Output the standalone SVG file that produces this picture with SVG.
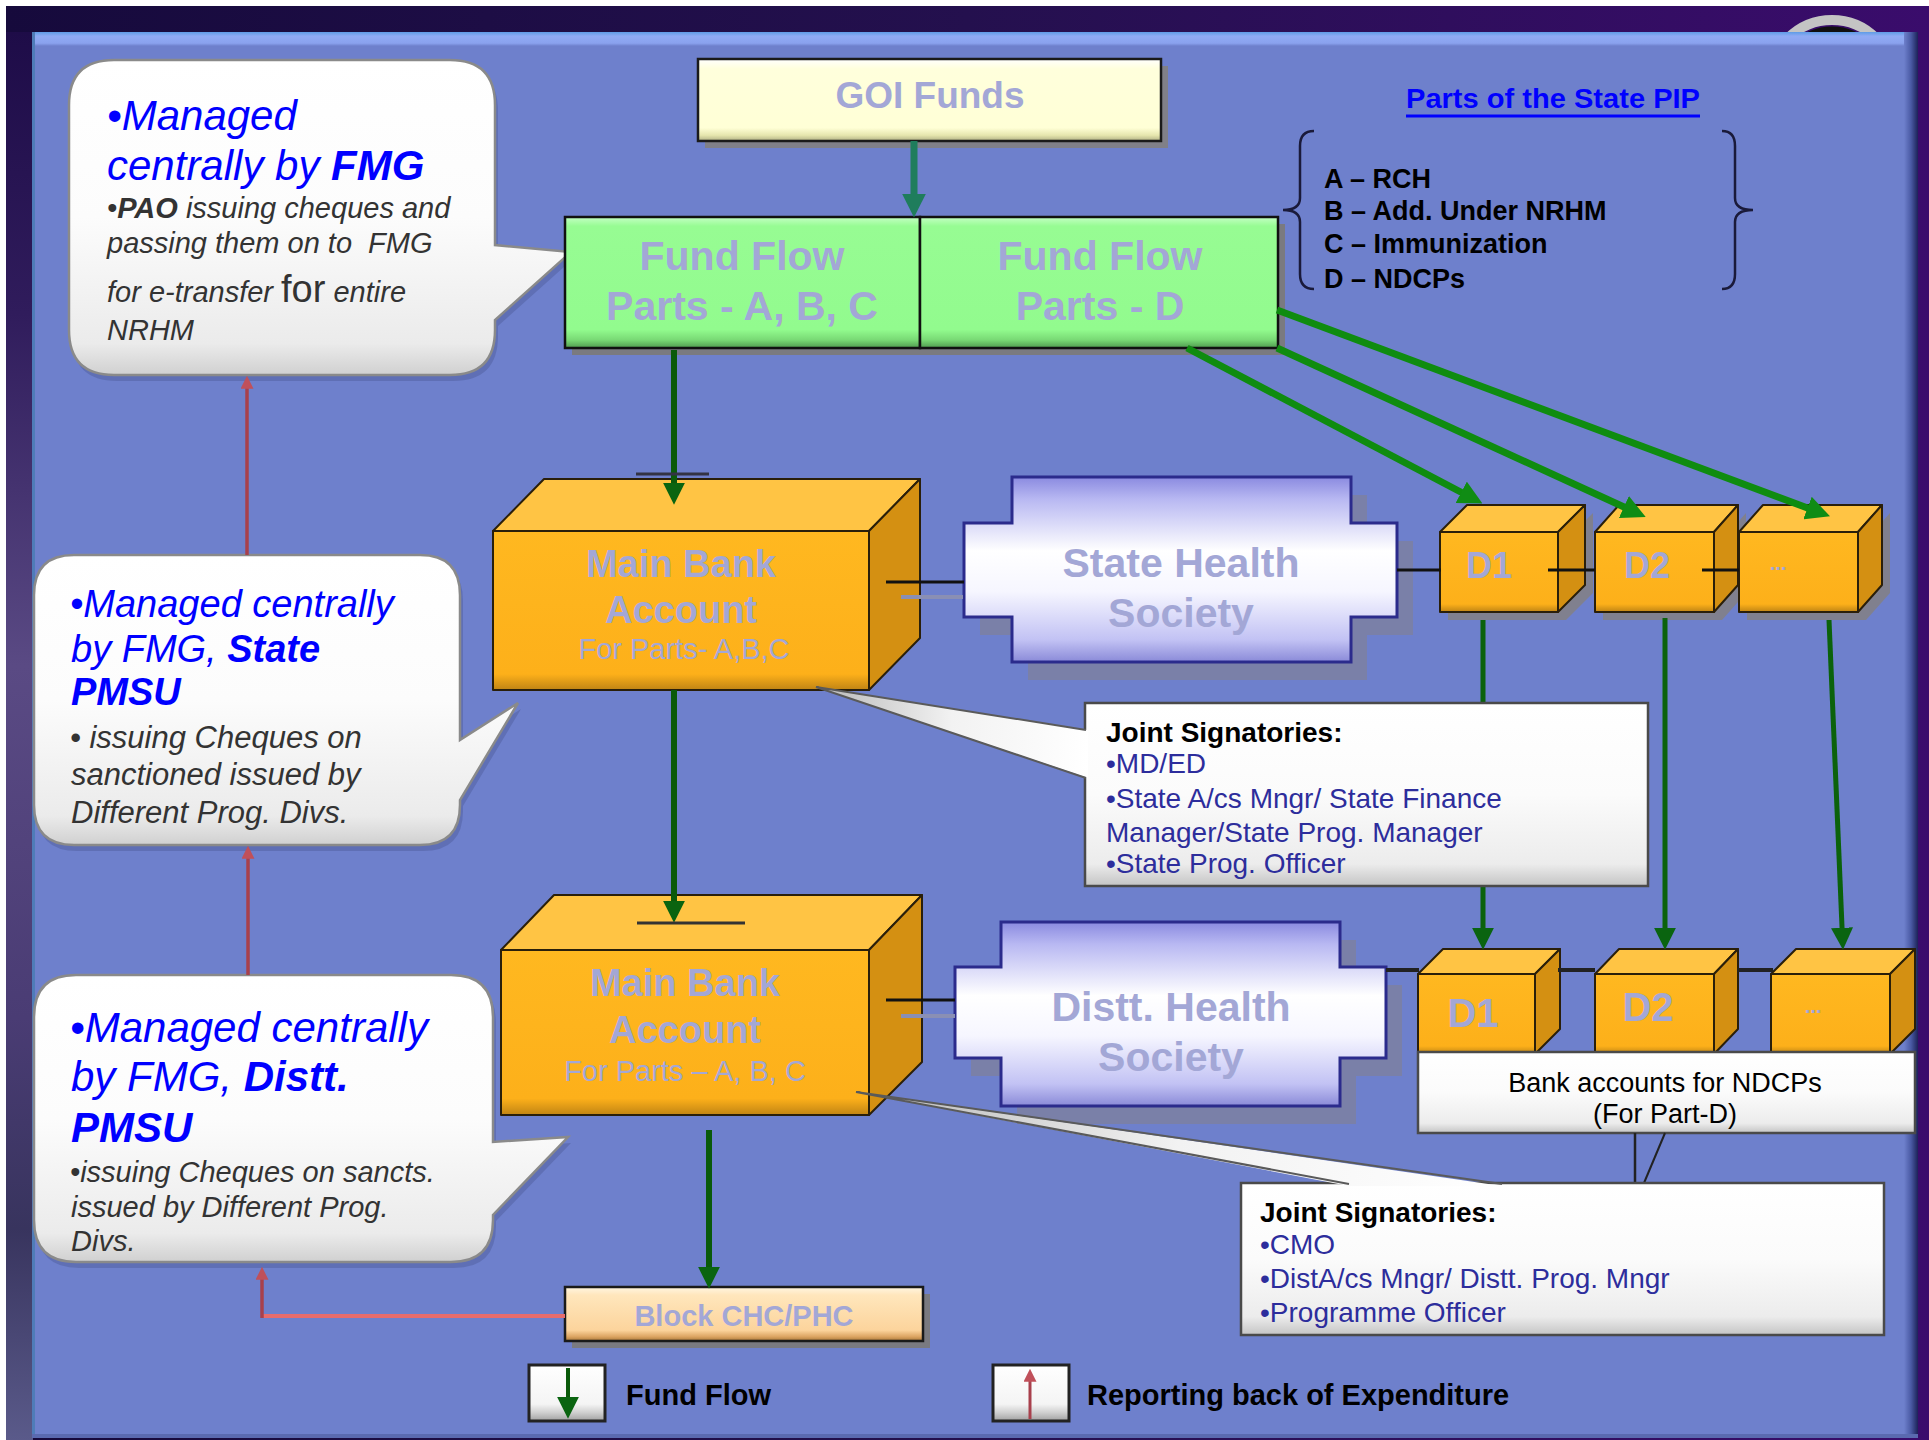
<svg xmlns="http://www.w3.org/2000/svg" width="1929" height="1440" viewBox="0 0 1929 1440">
<style>
text{font-family:"Liberation Sans",Arial,sans-serif}
.lav{fill:#a3a7d6;font-weight:bold}
.b{font-weight:bold}
.blue{fill:#0000ff;font-style:italic}
.gray{fill:#333333;font-style:italic}
.js{fill:#2d2d9c;font-size:28px}
.pip{font-size:27px;font-weight:bold;fill:#000}
.edge{stroke:#2a1f0a;stroke-width:2;stroke-linejoin:round}
.callout{fill:url(#calloutG);stroke:#8a8a8a;stroke-width:2.5}
.cshadow{fill:#4e5c9a;opacity:0.45}
.box{fill:url(#boxG);stroke:#4a4a4a;stroke-width:2.5}
</style>
<defs>
<linearGradient id="frameG" x1="0" y1="0" x2="1" y2="0"><stop offset="0" stop-color="#160a3c"/><stop offset="0.5" stop-color="#24104e"/><stop offset="1" stop-color="#3a0c6c"/></linearGradient>
<linearGradient id="leftG" x1="0" y1="0" x2="0" y2="1"><stop offset="0" stop-color="#1e0c48"/><stop offset="0.2" stop-color="#301c5c"/><stop offset="0.45" stop-color="#5a4a84"/><stop offset="0.7" stop-color="#4a3c74"/><stop offset="0.85" stop-color="#38345e"/><stop offset="1" stop-color="#5a5a8a"/></linearGradient>
<linearGradient id="topBevel" x1="0" y1="0" x2="0" y2="1"><stop offset="0" stop-color="#5e9ce6"/><stop offset="0.3" stop-color="#90aaf4"/><stop offset="0.8" stop-color="#8aa2ee"/><stop offset="1" stop-color="#6e80cc"/></linearGradient>
<linearGradient id="rightBevel" x1="0" y1="0" x2="1" y2="0"><stop offset="0" stop-color="#6e80cc"/><stop offset="0.5" stop-color="#4a5aa4"/><stop offset="1" stop-color="#1c2258"/></linearGradient>
<linearGradient id="ffG" x1="0" y1="0" x2="0" y2="1"><stop offset="0" stop-color="#c4ffc4"/><stop offset="0.07" stop-color="#97fc93"/><stop offset="0.86" stop-color="#92fb8e"/><stop offset="0.94" stop-color="#78d874"/><stop offset="1" stop-color="#4f9a4f"/></linearGradient>
<linearGradient id="goiG" x1="0" y1="0" x2="0" y2="1"><stop offset="0" stop-color="#ffffff"/><stop offset="0.12" stop-color="#ffffdc"/><stop offset="0.84" stop-color="#ffffd6"/><stop offset="0.93" stop-color="#e6e6ae"/><stop offset="1" stop-color="#b0b084"/></linearGradient>
<linearGradient id="blockG" x1="0" y1="0" x2="0" y2="1"><stop offset="0" stop-color="#fff6e2"/><stop offset="0.15" stop-color="#ffe6bc"/><stop offset="0.8" stop-color="#fcd49c"/><stop offset="0.92" stop-color="#dca462"/><stop offset="1" stop-color="#a87838"/></linearGradient>
<linearGradient id="crossG" x1="0" y1="0" x2="0" y2="1"><stop offset="0" stop-color="#8a8ae0"/><stop offset="0.12" stop-color="#b8b8f2"/><stop offset="0.4" stop-color="#ffffff"/><stop offset="0.62" stop-color="#f6f6ff"/><stop offset="0.88" stop-color="#c2c2f4"/><stop offset="1" stop-color="#8a8ad8"/></linearGradient>
<linearGradient id="calloutG" x1="0" y1="0" x2="0" y2="1"><stop offset="0" stop-color="#ffffff"/><stop offset="0.5" stop-color="#fcfcfc"/><stop offset="0.9" stop-color="#ebebeb"/><stop offset="1" stop-color="#d0d0d0"/></linearGradient>
<linearGradient id="boxG" x1="0" y1="0" x2="0" y2="1"><stop offset="0" stop-color="#ffffff"/><stop offset="0.5" stop-color="#fbfbfb"/><stop offset="0.88" stop-color="#ececec"/><stop offset="1" stop-color="#c4c4c4"/></linearGradient>
<linearGradient id="cubeF" x1="0" y1="0" x2="0" y2="1"><stop offset="0" stop-color="#ffb820"/><stop offset="0.9" stop-color="#fdb01a"/><stop offset="1" stop-color="#c08414"/></linearGradient>
<linearGradient id="wedgeG" x1="0" y1="0" x2="1" y2="0"><stop offset="0" stop-color="#b8b8b8"/><stop offset="0.5" stop-color="#f2f2f2"/><stop offset="1" stop-color="#ffffff"/></linearGradient>
<linearGradient id="legendG" x1="0" y1="0" x2="0" y2="1"><stop offset="0" stop-color="#ffffff"/><stop offset="0.7" stop-color="#f4f4f4"/><stop offset="0.85" stop-color="#cfcfcf"/><stop offset="1" stop-color="#a0a0a0"/></linearGradient>
<marker id="mG" viewBox="0 0 10 10" refX="6" refY="5" markerWidth="22" markerHeight="22" markerUnits="userSpaceOnUse" orient="auto"><path d="M0,0L10,5L0,10z" fill="#0a6410"/></marker>
<marker id="mB" viewBox="0 0 10 10" refX="6" refY="5" markerWidth="24" markerHeight="24" markerUnits="userSpaceOnUse" orient="auto"><path d="M0,0L10,5L0,10z" fill="#108c14"/></marker>
<marker id="mT" viewBox="0 0 10 10" refX="6" refY="5" markerWidth="24" markerHeight="24" markerUnits="userSpaceOnUse" orient="auto"><path d="M0,0L10,5L0,10z" fill="#1f7d5c"/></marker>
<marker id="mR" viewBox="0 0 10 10" refX="6" refY="5" markerWidth="13" markerHeight="13" markerUnits="userSpaceOnUse" orient="auto"><path d="M0,0L10,5L0,10z" fill="#c0505a"/></marker>
</defs>

<!-- background frame -->
<rect width="1929" height="1440" fill="#ffffff"/>
<rect x="6" y="6" width="1923" height="1434" fill="url(#frameG)"/>
<rect x="6" y="32" width="27" height="1408" fill="url(#leftG)"/>
<ellipse cx="1832" cy="82" rx="62" ry="62" fill="none" stroke="#c4c4c4" stroke-width="10"/>
<ellipse cx="1832" cy="86" rx="53" ry="56" fill="none" stroke="#101010" stroke-width="7"/>
<rect x="32" y="32" width="1886" height="1406" fill="#6e80cc"/>
<rect x="32" y="32" width="1886" height="14" fill="url(#topBevel)"/>
<rect x="1904" y="32" width="14" height="1406" fill="url(#rightBevel)"/>
<rect x="32" y="32" width="3" height="1406" fill="#4f7cb8"/>
<rect x="32" y="1434" width="1886" height="4" fill="#5a6ab0"/>

<!-- left callouts -->
<g id="note-fmg">
<path class="cshadow" transform="translate(3,6)" d="M114,60 H450 Q495,60 495,105 V245 L571,252 L495,320 V330 Q495,375 450,375 H114 Q69,375 69,330 V105 Q69,60 114,60 Z"/>
<path class="callout" d="M114,60 H450 Q495,60 495,105 V245 L571,252 L495,320 V330 Q495,375 450,375 H114 Q69,375 69,330 V105 Q69,60 114,60 Z"/>
<text x="107" y="130" class="blue" font-size="42">•Managed</text>
<text x="107" y="180" class="blue" font-size="42">centrally by <tspan font-weight="bold">FMG</tspan></text>
<text x="107" y="218" class="gray" font-size="29">•<tspan font-weight="bold">PAO</tspan> issuing cheques and</text>
<text x="107" y="253" class="gray" font-size="29">passing them on to <tspan dx="8">FMG</tspan></text>
<text x="107" y="302" class="gray" font-size="29">for e-transfer <tspan font-size="38" font-style="normal">for</tspan> entire</text>
<text x="107" y="340" class="gray" font-size="29">NRHM</text>
</g>

<g id="note-state-pmsu">
<path class="cshadow" transform="translate(3,6)" d="M74,555 H420 Q460,555 460,595 V740 L518,703 L460,800 V805 Q460,845 420,845 H74 Q34,845 34,805 V595 Q34,555 74,555 Z"/>
<path class="callout" d="M74,555 H420 Q460,555 460,595 V740 L518,703 L460,800 V805 Q460,845 420,845 H74 Q34,845 34,805 V595 Q34,555 74,555 Z"/>
<text x="70" y="617" class="blue" font-size="38">•Managed centrally</text>
<text x="71" y="662" class="blue" font-size="38">by FMG, <tspan font-weight="bold">State</tspan></text>
<text x="71" y="705" class="blue" font-size="38" font-weight="bold">PMSU</text>
<text x="70" y="748" class="gray" font-size="31">• issuing Cheques on</text>
<text x="71" y="785" class="gray" font-size="31">sanctioned issued by</text>
<text x="71" y="823" class="gray" font-size="31">Different Prog. Divs.</text>
</g>

<g id="note-distt-pmsu">
<path class="cshadow" transform="translate(3,6)" d="M76,975 H451 Q493,975 493,1017 V1142 L568,1137 L493,1215 V1220 Q493,1262 451,1262 H76 Q34,1262 34,1220 V1017 Q34,975 76,975 Z"/>
<path class="callout" d="M76,975 H451 Q493,975 493,1017 V1142 L568,1137 L493,1215 V1220 Q493,1262 451,1262 H76 Q34,1262 34,1220 V1017 Q34,975 76,975 Z"/>
<text x="70" y="1042" class="blue" font-size="42">•Managed centrally</text>
<text x="71" y="1091" class="blue" font-size="42">by FMG, <tspan font-weight="bold">Distt.</tspan></text>
<text x="71" y="1142" class="blue" font-size="42" font-weight="bold">PMSU</text>
<text x="70" y="1182" class="gray" font-size="29">•issuing Cheques on sancts.</text>
<text x="71" y="1217" class="gray" font-size="29">issued by Different Prog.</text>
<text x="71" y="1251" class="gray" font-size="29">Divs.</text>
</g>

<!-- GOI -->
<g id="goi-funds">
<rect x="705" y="66" width="463" height="82" fill="#808088"/>
<rect x="698" y="59" width="463" height="82" fill="url(#goiG)" stroke="#1a1a1a" stroke-width="2.5"/>
<text x="930" y="108" class="lav" font-size="37" text-anchor="middle">GOI Funds</text>
</g>

<!-- Fund flow boxes -->
<g id="fund-flow-abc">
<rect x="572" y="224" width="355" height="131" fill="#7a7a80"/>
<rect x="565" y="217" width="355" height="131" fill="url(#ffG)" stroke="#111" stroke-width="2.5"/>
<text x="742" y="270" class="lav" font-size="41" text-anchor="middle">Fund Flow</text>
<text x="742" y="320" class="lav" font-size="41" text-anchor="middle">Parts - A, B, C</text>
</g>
<g id="fund-flow-d">
<rect x="927" y="224" width="358" height="131" fill="#7a7a80"/>
<rect x="920" y="217" width="358" height="131" fill="url(#ffG)" stroke="#111" stroke-width="2.5"/>
<text x="1100" y="270" class="lav" font-size="41" text-anchor="middle">Fund Flow</text>
<text x="1100" y="320" class="lav" font-size="41" text-anchor="middle">Parts - D</text>
</g>

<!-- PIP parts -->
<g id="pip-parts">
<text x="1406" y="108" font-size="28" font-weight="bold" fill="#0000ff" textLength="294" lengthAdjust="spacingAndGlyphs">Parts of the State PIP</text>
<line x1="1406" y1="116" x2="1700" y2="116" stroke="#0000ff" stroke-width="3"/>
<path d="M1314,131 Q1300,131 1300,146 L1300,198 Q1300,210 1283,210 Q1300,210 1300,222 L1300,274 Q1300,289 1314,289" fill="none" stroke="#1a1a3a" stroke-width="2.5"/>
<path d="M1722,131 Q1735,131 1735,146 L1735,198 Q1735,210 1753,210 Q1735,210 1735,222 L1735,274 Q1735,289 1722,289" fill="none" stroke="#1a1a3a" stroke-width="2.5"/>
<text x="1324" y="188" class="pip">A – RCH</text>
<text x="1324" y="220" class="pip">B – Add. Under NRHM</text>
<text x="1324" y="253" class="pip">C – Immunization</text>
<text x="1324" y="288" class="pip">D – NDCPs</text>
</g>

<!-- Main bank 1 -->
<g id="main-bank-state">
<rect x="493" y="531" width="376" height="159" fill="url(#cubeF)" class="edge"/>
<polygon points="493,531 544,479 920,479 869,531" fill="#ffc444" class="edge"/>
<polygon points="869,531 920,479 920,638 869,690" fill="#d49012" class="edge"/>
<text x="681" y="577" class="lav" font-size="38" text-anchor="middle">Main Bank</text>
<text x="681" y="623" class="lav" font-size="38" text-anchor="middle">Account</text>
<text x="684" y="659" font-size="29" fill="#a3a7d6" text-anchor="middle">For Parts- A,B,C</text>
</g>

<!-- State Health Society -->
<g id="state-health-society">
<path transform="translate(16,18)" d="M1012,477 H1351 V523 H1397 V617 H1351 V662 H1012 V617 H964 V523 H1012 Z" fill="#7a80a8"/>
<path d="M1012,477 H1351 V523 H1397 V617 H1351 V662 H1012 V617 H964 V523 H1012 Z" fill="url(#crossG)" stroke="#2b2b8c" stroke-width="3"/>
<text x="1181" y="577" class="lav" font-size="41" text-anchor="middle">State Health</text>
<text x="1181" y="627" class="lav" font-size="41" text-anchor="middle">Society</text>
</g>

<!-- D cubes top -->
<g id="state-d1">
<polygon points="1448,540 1566,540 1593,513 1593,593 1566,620 1448,620" fill="#80808e"/>
<rect x="1440" y="532" width="118" height="80" fill="url(#cubeF)" class="edge"/>
<polygon points="1440,532 1467,505 1585,505 1558,532" fill="#ffc444" class="edge"/>
<polygon points="1558,532 1585,505 1585,585 1558,612" fill="#d49012" class="edge"/>
<text x="1489" y="578" class="lav" font-size="36" text-anchor="middle">D1</text>
</g>
<g id="state-d2">
<polygon points="1603,540 1722,540 1746,513 1746,593 1722,620 1603,620" fill="#80808e"/>
<rect x="1595" y="532" width="119" height="80" fill="url(#cubeF)" class="edge"/>
<polygon points="1595,532 1619,505 1738,505 1714,532" fill="#ffc444" class="edge"/>
<polygon points="1714,532 1738,505 1738,585 1714,612" fill="#d49012" class="edge"/>
<text x="1647" y="578" class="lav" font-size="36" text-anchor="middle">D2</text>
</g>
<g id="state-dn">
<polygon points="1747,540 1866,540 1890,513 1890,593 1866,620 1747,620" fill="#80808e"/>
<rect x="1739" y="532" width="119" height="80" fill="url(#cubeF)" class="edge"/>
<polygon points="1739,532 1763,505 1882,505 1858,532" fill="#ffc444" class="edge"/>
<polygon points="1858,532 1882,505 1882,585 1858,612" fill="#d49012" class="edge"/>
<text x="1778" y="570" class="lav" font-size="20" text-anchor="middle">...</text>
</g>

<!-- Main bank 2 -->
<g id="main-bank-distt">
<rect x="501" y="950" width="368" height="165" fill="url(#cubeF)" class="edge"/>
<polygon points="501,950 554,895 922,895 869,950" fill="#ffc444" class="edge"/>
<polygon points="869,950 922,895 922,1062 869,1115" fill="#d49012" class="edge"/>
<text x="685" y="996" class="lav" font-size="38" text-anchor="middle">Main Bank</text>
<text x="685" y="1043" class="lav" font-size="38" text-anchor="middle">Account</text>
<text x="685" y="1081" font-size="29" fill="#a3a7d6" text-anchor="middle">For Parts – A, B, C</text>
</g>

<!-- Distt Health Society -->
<g id="distt-health-society">
<path transform="translate(16,18)" d="M1001,922 H1340 V967 H1386 V1058 H1340 V1106 H1001 V1058 H955 V967 H1001 Z" fill="#7a80a8"/>
<path d="M1001,922 H1340 V967 H1386 V1058 H1340 V1106 H1001 V1058 H955 V967 H1001 Z" fill="url(#crossG)" stroke="#2b2b8c" stroke-width="3"/>
<text x="1171" y="1021" class="lav" font-size="41" text-anchor="middle">Distt. Health</text>
<text x="1171" y="1071" class="lav" font-size="41" text-anchor="middle">Society</text>
</g>

<!-- D cubes bottom -->
<g id="distt-d1">
<rect x="1418" y="974" width="117" height="80" fill="url(#cubeF)" class="edge"/>
<polygon points="1418,974 1443,949 1560,949 1535,974" fill="#ffc444" class="edge"/>
<polygon points="1535,974 1560,949 1560,1029 1535,1054" fill="#d49012" class="edge"/>
<text x="1473" y="1027" class="lav" font-size="40" text-anchor="middle">D1</text>
</g>
<g id="distt-d2">
<rect x="1595" y="974" width="119" height="80" fill="url(#cubeF)" class="edge"/>
<polygon points="1595,974 1619,949 1738,949 1714,974" fill="#ffc444" class="edge"/>
<polygon points="1714,974 1738,949 1738,1029 1714,1054" fill="#d49012" class="edge"/>
<text x="1648" y="1021" class="lav" font-size="40" text-anchor="middle">D2</text>
</g>
<g id="distt-dn">
<rect x="1771" y="974" width="119" height="80" fill="url(#cubeF)" class="edge"/>
<polygon points="1771,974 1796,949 1915,949 1890,974" fill="#ffc444" class="edge"/>
<polygon points="1890,974 1915,949 1915,1029 1890,1054" fill="#d49012" class="edge"/>
<text x="1813" y="1013" class="lav" font-size="20" text-anchor="middle">...</text>
</g>

<!-- NDCP bank accounts -->
<g id="ndcp-accounts">
<rect x="1418" y="1052" width="497" height="81" class="box"/>
<text x="1665" y="1092" font-size="27" fill="#000" text-anchor="middle">Bank accounts for NDCPs</text>
<text x="1665" y="1123" font-size="27" fill="#000" text-anchor="middle">(For Part-D)</text>
</g>

<!-- Block -->
<g id="block-chc-phc">
<rect x="572" y="1294" width="358" height="54" fill="#7a7a80"/>
<rect x="565" y="1287" width="358" height="54" fill="url(#blockG)" stroke="#1a1a1a" stroke-width="2.5"/>
<text x="744" y="1326" class="lav" font-size="29" text-anchor="middle">Block CHC/PHC</text>
</g>

<!-- Legend -->
<g id="legend-fund-flow">
<rect x="529" y="1365" width="76" height="56" fill="url(#legendG)" stroke="#222" stroke-width="3"/>
<text x="626" y="1405" font-size="29" font-weight="bold" fill="#000">Fund Flow</text>
</g>
<g id="legend-reporting">
<rect x="993" y="1365" width="76" height="56" fill="url(#legendG)" stroke="#222" stroke-width="3"/>
<text x="1087" y="1405" font-size="29" font-weight="bold" fill="#000">Reporting back of Expenditure</text>
</g>

<!-- connectors -->
<g id="connectors" fill="none">
<line x1="914" y1="141" x2="914" y2="208" stroke="#1f7d5c" stroke-width="7" marker-end="url(#mT)"/>
<line x1="674" y1="350" x2="674" y2="496" stroke="#0a5a0a" stroke-width="6" marker-end="url(#mG)"/>
<line x1="636" y1="474" x2="709" y2="474" stroke="#333344" stroke-width="3"/>
<line x1="674" y1="690" x2="674" y2="914" stroke="#0a5a0a" stroke-width="6" marker-end="url(#mG)"/>
<line x1="637" y1="923" x2="745" y2="923" stroke="#333" stroke-width="3"/>
<line x1="709" y1="1130" x2="709" y2="1280" stroke="#0a5a0a" stroke-width="6" marker-end="url(#mG)"/>
<line x1="1187" y1="348" x2="1474" y2="499" stroke="#0f8c10" stroke-width="7" marker-end="url(#mB)"/>
<line x1="1277" y1="348" x2="1637" y2="513" stroke="#0f8c10" stroke-width="7" marker-end="url(#mB)"/>
<line x1="1277" y1="310" x2="1821" y2="513" stroke="#0f8c10" stroke-width="7" marker-end="url(#mB)"/>
<line x1="901" y1="597" x2="963" y2="597" stroke="#8a8fb4" stroke-width="4"/>
<line x1="886" y1="582" x2="964" y2="582" stroke="#111" stroke-width="3"/>
<line x1="901" y1="1016" x2="955" y2="1016" stroke="#8a8fb4" stroke-width="4"/>
<line x1="886" y1="1000" x2="955" y2="1000" stroke="#111" stroke-width="3"/>
<line x1="1397" y1="570" x2="1441" y2="570" stroke="#111" stroke-width="3"/>
<line x1="1548" y1="570" x2="1595" y2="570" stroke="#111" stroke-width="3"/>
<line x1="1702" y1="570" x2="1739" y2="570" stroke="#111" stroke-width="3"/>
<line x1="1386" y1="970" x2="1419" y2="970" stroke="#222" stroke-width="4"/>
<line x1="1558" y1="970" x2="1595" y2="970" stroke="#222" stroke-width="4"/>
<line x1="1737" y1="970" x2="1773" y2="970" stroke="#222" stroke-width="4"/>
<line x1="1483" y1="620" x2="1483" y2="941" stroke="#0b620b" stroke-width="5" marker-end="url(#mG)"/>
<line x1="1665" y1="618" x2="1665" y2="941" stroke="#0b620b" stroke-width="5" marker-end="url(#mG)"/>
<line x1="1829" y1="620" x2="1842.6" y2="941" stroke="#0b620b" stroke-width="5" marker-end="url(#mG)"/>
<line x1="1635" y1="1133" x2="1635" y2="1183" stroke="#222" stroke-width="2.5"/>
<line x1="1665" y1="1133" x2="1644" y2="1183" stroke="#222" stroke-width="2"/>
<line x1="247" y1="555" x2="247" y2="381" stroke="#a8404c" stroke-width="3.5" marker-end="url(#mR)"/>
<line x1="248" y1="975" x2="248" y2="851" stroke="#a8404c" stroke-width="3.5" marker-end="url(#mR)"/>
<line x1="565" y1="1316" x2="262" y2="1316" stroke="#e86c6c" stroke-width="4"/>
<line x1="262" y1="1318" x2="262" y2="1272" stroke="#a8404c" stroke-width="3.5" marker-end="url(#mR)"/>
<line x1="568" y1="1368" x2="568" y2="1410" stroke="#0a5a0a" stroke-width="4" marker-end="url(#mG)"/>
<line x1="1030" y1="1419" x2="1030" y2="1374" stroke="#a8404c" stroke-width="3" marker-end="url(#mR)"/>
</g>

<!-- Joint signatories (state) -->
<g id="joint-sig-state">
<rect x="1085" y="703" width="563" height="183" class="box"/>
<polygon points="816,687 1088,730 1088,778" fill="url(#wedgeG)"/>
<polyline points="1086,730 816,687 1086,778" fill="none" stroke="#5a5a5a" stroke-width="2"/>
<text x="1106" y="742" font-size="28" font-weight="bold" fill="#000">Joint Signatories:</text>
<text x="1106" y="773" class="js">•MD/ED</text>
<text x="1106" y="808" class="js">•State A/cs Mngr/ State Finance</text>
<text x="1106" y="842" class="js">Manager/State Prog. Manager</text>
<text x="1106" y="873" class="js">•State Prog. Officer</text>
</g>

<!-- Joint signatories (distt) -->
<g id="joint-sig-distt">
<rect x="1241" y="1183" width="643" height="152" class="box"/>
<polygon points="856,1092 1349,1186 1502,1186" fill="url(#wedgeG)"/>
<polyline points="1349,1184 856,1092 1502,1184" fill="none" stroke="#5a5a5a" stroke-width="2"/>
<text x="1260" y="1222" font-size="28" font-weight="bold" fill="#000">Joint Signatories:</text>
<text x="1260" y="1254" class="js">•CMO</text>
<text x="1260" y="1288" class="js">•DistA/cs Mngr/ Distt. Prog. Mngr</text>
<text x="1260" y="1322" class="js">•Programme Officer</text>
</g>
</svg>
